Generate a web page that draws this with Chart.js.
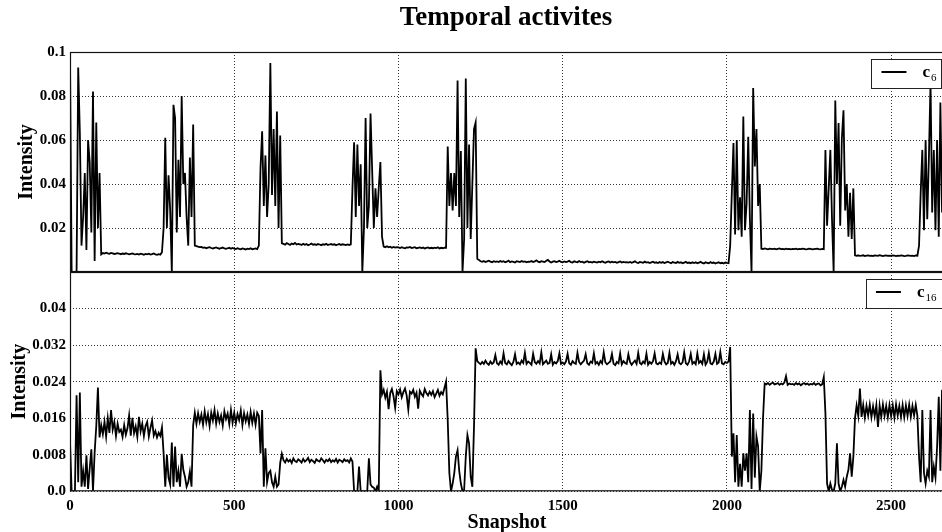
<!DOCTYPE html>
<html><head><meta charset="utf-8">
<script src="https://cdn.jsdelivr.net/npm/chart.js@4.4.0/dist/chart.umd.min.js"></script>
<style>
html,body{margin:0;padding:0;background:#fff;overflow:hidden;width:942px;height:532px}
#wrap{position:relative;width:942px;height:532px;overflow:hidden;background:#fff}
canvas{position:absolute;left:0}
#top{top:0}
#bot{top:264px}
</style></head><body><div id="wrap"><canvas id="top" width="944" height="280"></canvas><canvas id="bot" width="944" height="268"></canvas></div>
<script>
// sampling step of the snapshot index (one value every STEP snapshots)
const STEP = 5;

// c6 intensity, snapshots 0,5,10,...,2655 (one line = 100 snapshots)
const c6 = [
.097,0,0,0,0,.093,.063,.012,.025,.045,.01,.06,.05,.018,.082,.005,.068,.02,.045,.008,
.0086,.0084,.0088,.0085,.0083,.0087,.0085,.0082,.0084,.0086,.0083,.0081,.0084,.0082,.0085,.0083,.0080,.0082,.0084,.0081,
.0080,.0082,.0079,.0083,.0081,.0078,.0082,.0080,.0083,.0079,.0081,.0084,.0080,.0078,.0081,.0079,.009,.02,.061,.02,
.044,.028,0,.076,.07,.018,.051,.025,.08,.04,.045,.025,.012,.052,.025,.067,.012,.0118,.0115,.0113,
.0114,.0110,.0112,.0108,.0111,.0113,.0109,.0107,.0110,.0112,.0108,.0106,.0109,.0111,.0107,.0105,.0108,.0110,.0106,.0109,
.0106,.0104,.0108,.0105,.0103,.0107,.0105,.0102,.0106,.0104,.0108,.0103,.0105,.0107,.0104,.012,.047,.064,.03,.053,
.025,.04,.095,.035,.065,.03,.073,.02,.062,.013,.0128,.0124,.0131,.0127,.0123,.0129,.0126,.0132,.0125,.0128,
.0126,.0123,.0128,.0124,.0127,.0122,.0125,.0129,.0124,.0126,.0123,.0127,.0125,.0122,.0126,.0124,.0128,.0123,.0125,.0127,
.0124,.0126,.0122,.0125,.0127,.0123,.0126,.0124,.0122,.0125,.0123,.0126,.038,.059,.025,.058,.03,.049,0,.02,
.07,.02,.03,.072,.046,.02,.038,.025,.038,.05,.016,.0116,.0113,.0117,.0112,.0115,.0110,.0114,.0111,.0113,
.0112,.0109,.0113,.0110,.0108,.0112,.0111,.0114,.0109,.0111,.0113,.0108,.0110,.0112,.0109,.0111,.0107,.0110,.0112,.0108,
.0110,.0108,.0111,.0109,.0112,.0107,.0110,.0108,.0111,.011,.057,.03,.045,.028,.045,.03,.087,.025,.055,0,
.015,.088,.02,.058,.015,.04,.065,.068,.006,.0055,.0049,.0046,.0050,.0045,.0048,.0051,.0047,.0044,.0049,.0046,
.0048,.0045,.0050,.0046,.0049,.0044,.0047,.0052,.0045,.0048,.0046,.0043,.0049,.0047,.0045,.0050,.0046,.0048,.0044,.0047,
.0046,.0050,.0045,.0048,.0053,.0047,.0044,.0049,.0047,.0045,.0051,.0055,.0048,.0043,.0047,.0049,.0045,.0047,.0051,.0046,
.0044,.0048,.0045,.0047,.0051,.0045,.0043,.0049,.0046,.0044,.0050,.0045,.0047,.0042,.0046,.0049,.0044,.0046,.0043,.0047,
.0045,.0043,.0047,.0044,.0049,.0045,.0042,.0046,.0048,.0043,.0047,.0044,.0046,.0042,.0045,.0048,.0043,.0046,.0044,.0045,
.0043,.0046,.0042,.0045,.0049,.0043,.0041,.0046,.0044,.0042,.0047,.0043,.0045,.0041,.0044,.0047,.0042,.0044,.0041,.0045,
.0042,.0045,.0041,.0044,.0047,.0043,.0040,.0045,.0043,.0041,.0046,.0042,.0044,.0040,.0043,.0046,.0041,.0043,.0040,.0044,
.0041,.0044,.0040,.0043,.0046,.0041,.0039,.0044,.0042,.0040,.0045,.0041,.0043,.0039,.0042,.0044,.0040,.0042,.0039,.0043,
.0041,.0040,.012,.036,.0586,.017,.06,.019,.034,.016,.0707,.019,.031,.0615,.024,0,.0836,.048,.065,.03,
.04,.0106,.0104,.0107,.0105,.0103,.0106,.0105,.0104,.0106,.0103,.0105,.0107,.0104,.0105,.0103,.0106,.0104,.0105,.0103,
.0105,.0104,.0106,.0103,.0105,.0104,.0106,.0105,.0103,.0104,.0106,.0105,.0103,.0104,.0105,.0106,.0104,.0103,.0105,.0104,
.0555,.021,.038,.0555,.024,0,.078,.04,.0677,.021,.0607,.0735,.028,.04,.016,.036,.015,.038,.0076,.0074,
.0075,.0073,.0074,.0076,.0072,.0074,.0075,.0073,.0074,.0072,.0075,.0074,.0073,.0076,.0074,.0072,.0074,.0075,.0073,.0074,
.0073,.0075,.0074,.0072,.0074,.0073,.0075,.0074,.0072,.0073,.0075,.0074,.0073,.0074,.0072,.0075,.0074,.012,.036,.0555,
.019,.06,.024,.052,.086,.027,.0555,.019,.06,.016,.077,.027
];

// c16 intensity, snapshots 0,5,10,...,2655 (one line = 100 snapshots)
const c16 = [
.011,0,0,0,.021,.002,.0216,.001,.0045,.001,.0079,.0005,.005,.0092,0,.0085,.0143,.0227,.0118,.0145,
.0125,.0152,.012,.016,.0128,.0178,.0135,.0152,.0121,.0148,.013,.0135,.0119,.0145,.0124,.0138,.0166,.0122,.0161,.0127,
.0142,.0119,.0163,.0131,.0148,.0121,.0143,.0152,.012,.0139,.0155,.0122,.0132,.0118,.0128,.0121,.014,.0083,.001,.008,
.003,.0015,.0107,.001,.0098,.002,.0045,.001,.0082,.0047,.0032,.001,.002,.0043,.001,.0145,.0172,.0148,.0171,.0152,
.0168,.0146,.0175,.0151,.0169,.0143,.0172,.0155,.0178,.0148,.0170,.0152,.0166,.0144,.0175,.0158,.0170,.0147,.0178,.0150,
.0172,.0149,.0169,.0156,.0177,.0145,.0171,.0153,.0168,.0147,.0174,.0150,.0170,.0146,.0172,.0165,.0083,.0178,.001,.0094,
.002,.004,.0045,.002,.001,.0032,.001,.0015,.0062,.0082,.0068,.0063,.0071,.0065,.0069,.0062,.0072,.0066,.0064,.0070,
.0067,.0063,.0071,.0065,.0068,.0073,.0064,.0069,.0066,.0062,.0070,.0067,.0065,.0072,.0068,.0063,.0069,.0066,.0071,.0064,
.0068,.0065,.0071,.0063,.0069,.0067,.0064,.0070,.0066,.0068,.0063,.0072,.0065,0,0,0,.0054,0,0,0,
0,0,.0072,.0015,.001,.0008,0,.001,0,.0265,.0212,.0222,.0205,.0218,.0180,.0215,.0224,.0208,.0183,.0219,
.0212,.0223,.0206,.0217,.0225,.0210,.0179,.0218,.0214,.0222,.0207,.0216,.0181,.0220,.0213,.0208,.0224,.0215,.0210,.0218,
.0211,.0219,.0206,.0214,.0222,.0209,.0217,.0212,.0226,.024,.0156,.004,0,.0017,.004,.0076,.009,.0045,.0017,0,
.0003,.0076,.0123,.0105,.0032,.001,.0141,.0313,.0285,.0281,.0278,.0283,.0279,.0286,.0280,.0277,.0284,.0279,.0282,.0298,
.0280,.0277,.0284,.0279,.0302,.0281,.0278,.0285,.0280,.0276,.0283,.0300,.0279,.0282,.0278,.0286,.0281,.0303,.0279,.0284,
.0281,.0277,.0301,.0283,.0279,.0285,.0280,.0304,.0278,.0282,.0286,.0279,.0281,.0300,.0277,.0283,.0280,.0285,.0302,.0279,
.0282,.0278,.0284,.0301,.0280,.0277,.0285,.0281,.0279,.0303,.0283,.0278,.0282,.0286,.0300,.0280,.0277,.0284,.0281,.0302,
.0279,.0283,.0277,.0285,.0280,.0304,.0282,.0278,.0281,.0284,.0301,.0279,.0276,.0283,.0280,.0302,.0278,.0285,.0281,.0279,
.0300,.0283,.0277,.0282,.0286,.0279,.0303,.0281,.0278,.0284,.0280,.0301,.0277,.0283,.0279,.0285,.0302,.0280,.0278,.0282,
.0279,.0301,.0284,.0278,.0281,.0303,.0279,.0283,.0277,.0285,.0300,.0281,.0278,.0282,.0304,.0280,.0277,.0284,.0301,.0279,
.0283,.0278,.0302,.0281,.0285,.0279,.0300,.0277,.0283,.0303,.0280,.0278,.0284,.0301,.0279,.0282,.0305,.0280,.0278,.0283,
.0281,.0284,.0316,.0076,.0127,.002,.0123,.001,.006,.001,.0083,.0045,.0083,.002,.0178,.0005,.017,.003,.012,.0098,
0,.0045,.016,.0236,.0234,.0237,.0233,.0236,.0238,.0234,.0235,.0237,.0233,.0236,.0234,.0238,.0252,.0233,.0236,.0234,
.0235,.0233,.0237,.0234,.0236,.0232,.0235,.0237,.0234,.0236,.0233,.0235,.0234,.0237,.0233,.0235,.0236,.0232,.0234,.025,
.017,.0017,0,.0017,.0003,0,.0017,.0105,.0017,0,.001,.0025,.001,.0032,.0047,.0083,.0032,.0076,.016,.0188,
.0165,.0225,.0163,.0189,.0161,.0187,.0166,.0190,.0162,.0186,.0164,.0189,.0141,.0188,.0163,.0190,.0165,.0187,.0162,.0189,
.0164,.0188,.0161,.0190,.0166,.0187,.0163,.0189,.0162,.0188,.0165,.0190,.0163,.0187,.0166,.0189,.0165,.0076,.002,.0178,
.004,.0017,.0045,.0032,.0178,.002,.0054,.003,.0098,.0207,.0045,.0222
];

const snapshotTicks = [0, 500, 1000, 1500, 2000, 2500];
const snapshotTickLabels = ['0', '500', '1000', '1500', '2000', '2500'];
const c6Ticks = [0.02, 0.04, 0.06, 0.08, 0.1];
const c6TickLabels = ['0.02', '0.04', '0.06', '0.08', '0.1'];
const c16Ticks = [0, 0.008, 0.016, 0.024, 0.032, 0.04];
const c16TickLabels = ['0.0', '0.008', '0.016', '0.024', '0.032', '0.04'];
const titleText = 'Temporal activites';
const xTitle = 'Snapshot';
const yTitle = 'Intensity';
const c6Legend = ['c', '6'];
const c16Legend = ['c', '16'];

const FAM = "'Liberation Serif', 'Times New Roman', serif";

const framePlugin = {
  id: 'frame',
  afterDatasetsDraw(chart) {
    const a = chart.chartArea, ctx = chart.ctx;
    ctx.save();
    ctx.strokeStyle = '#111';
    ctx.lineWidth = 1.2;
    ctx.strokeRect(a.left + 0.5, a.top + 0.5, a.right - a.left - 1, a.bottom - a.top - 1);
    ctx.restore();
  }
};

const legendPlugin = {
  id: 'subLegend',
  afterDraw(chart, args, opts) {
    const a = chart.chartArea, ctx = chart.ctx;
    const parts = opts.parts;
    ctx.save();
    ctx.font = 'bold 17px ' + FAM;
    const wBase = ctx.measureText(parts[0]).width;
    ctx.font = '11px ' + FAM;
    const wSub = ctx.measureText(parts[1]).width;
    const boxRight = 941.5;
    const boxW = 51 + wBase + 1 + wSub + 5;
    const boxL = boxRight - boxW;
    const boxT = a.top + 7;
    const boxH = 29;
    ctx.fillStyle = '#fff';
    ctx.fillRect(boxL, boxT, boxW, boxH);
    ctx.strokeStyle = '#222';
    ctx.lineWidth = 1;
    ctx.strokeRect(Math.round(boxL) + 0.5, Math.round(boxT) + 0.5, Math.round(boxW), boxH);
    ctx.strokeStyle = '#000';
    ctx.lineWidth = 2;
    ctx.beginPath();
    ctx.moveTo(boxL + 10, boxT + 13);
    ctx.lineTo(boxL + 35, boxT + 13);
    ctx.stroke();
    ctx.fillStyle = '#000';
    ctx.textBaseline = 'alphabetic';
    ctx.textAlign = 'left';
    ctx.font = 'bold 17px ' + FAM;
    ctx.fillText(parts[0], boxL + 51, boxT + 18);
    ctx.font = '11px ' + FAM;
    ctx.fillText(parts[1], boxL + 51 + wBase + 1, boxT + 21.5);
    ctx.restore();
  }
};

const titlePlugin = {
  id: 'mainTitle',
  afterDraw(chart, args, opts) {
    if (!opts.text) return;
    const a = chart.chartArea, ctx = chart.ctx;
    ctx.save();
    ctx.font = 'bold 27px ' + FAM;
    ctx.fillStyle = '#000';
    ctx.textAlign = 'center';
    ctx.textBaseline = 'middle';
    ctx.fillText(opts.text, (a.left + a.right) / 2 - 1, 18);
    ctx.restore();
  }
};

function makeChart(canvas, values, label, yTicks, yLabels, yMax, isBottom, legendParts) {
  const pts = values.map((v, i) => ({ x: i * STEP, y: v }));
  return new Chart(canvas, {
    type: 'line',
    data: { datasets: [{ label: label, data: pts, borderColor: '#000', borderWidth: 1.8,
      pointRadius: 0, tension: 0, fill: false }] },
    options: {
      responsive: false, devicePixelRatio: 1, animation: false, events: [],
      layout: { padding: isBottom ? { top: 8, bottom: 0, left: 0, right: 0 } : { top: 52, bottom: 8, left: 0, right: 0 } },
      scales: {
        x: {
          type: 'linear', min: 0, max: 2661,
          afterBuildTicks: s => { s.ticks = snapshotTicks.map(v => ({ value: v })); },
          afterFit: s => { s.height = isBottom ? 40.7 : 0; s.paddingLeft = 0; s.paddingRight = 0; s.paddingTop = 0; s.paddingBottom = 0; },
          ticks: { display: isBottom, autoSkip: false, maxRotation: 0, padding: 6, color: '#000',
            callback: (v, i) => snapshotTickLabels[i],
            font: { family: FAM, size: 15, weight: 'bold' } },
          grid: { color: '#000', lineWidth: 0.8, drawTicks: false },
          border: { display: false, dash: [1, 2] },
          title: { display: isBottom, text: xTitle, color: '#000', padding: { top: 0, bottom: -3 },
            font: { family: FAM, size: 20, weight: 'bold' } }
        },
        y: {
          min: 0, max: yMax,
          afterBuildTicks: s => { s.ticks = yTicks.map(v => ({ value: v })); },
          afterFit: s => { s.width = 70; s.paddingTop = 0; s.paddingBottom = 0; s.paddingLeft = 0; s.paddingRight = 0; },
          ticks: { callback: (v, i) => yLabels[i], color: '#000', padding: 4,
            font: { family: FAM, size: 15, weight: 'bold' } },
          grid: { color: '#000', lineWidth: 0.8, drawTicks: false },
          border: { display: false, dash: [1, 2] },
          title: { display: true, text: yTitle, color: '#000', padding: { top: isBottom ? 8 : 15, bottom: 0 },
            font: { family: FAM, size: 20, weight: 'bold' } }
        }
      },
      plugins: {
        legend: { display: false }, tooltip: { enabled: false },
        subLegend: { parts: legendParts },
        mainTitle: { text: isBottom ? '' : titleText }
      }
    },
    plugins: [framePlugin, legendPlugin, titlePlugin]
  });
}

makeChart(document.getElementById('top'), c6, 'c6', c6Ticks, c6TickLabels, 0.1, false, c6Legend);
makeChart(document.getElementById('bot'), c16, 'c16', c16Ticks, c16TickLabels, 0.048, true, c16Legend);
</script></body></html>
